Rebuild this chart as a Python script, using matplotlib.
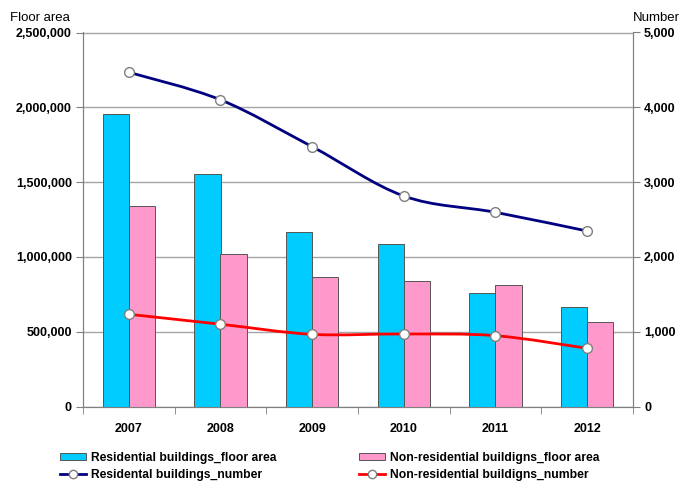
import matplotlib.pyplot as plt
import numpy as np
from matplotlib.path import Path
from matplotlib.patches import PathPatch, Patch
from matplotlib.lines import Line2D
from matplotlib.ticker import FuncFormatter, MultipleLocator, FixedLocator

plt.rcParams['font.family'] = ['Liberation Sans', 'DejaVu Sans']

years = ["2007", "2008", "2009", "2010", "2011", "2012"]
res_floor = [1957000, 1554000, 1164000, 1084000, 759000, 663000]
nonres_floor = [1340000, 1017000, 866000, 837000, 810000, 565000]
res_number = [4468, 4100, 3473, 2814, 2596, 2346]
nonres_number = [1233, 1100, 965, 970, 947, 778]

labels = [
    "Residential buildings_floor area",
    "Non-residential buildigns_floor area",
    "Residental buildings_number",
    "Non-residential buildigns_number",
]

cyan = "#00ccff"
pink = "#ff99cc"
navy = "#000080"
red = "#ff0000"
grid_c = "#a6a6a6"
axis_c = "#808080"


def smooth_path(x, y):
    # Excel style smoothed line: catmull-rom converted to cubic beziers
    pts = np.column_stack([x, y]).astype(float)
    verts = [pts[0]]
    codes = [Path.MOVETO]
    n = len(pts)
    for i in range(n - 1):
        p0 = pts[i - 1] if i > 0 else pts[i]
        p1 = pts[i]
        p2 = pts[i + 1]
        p3 = pts[i + 2] if i + 2 < n else pts[i + 1]
        c1 = p1 + (p2 - p0) / 6.0
        c2 = p2 - (p3 - p1) / 6.0
        verts += [c1, c2, p2]
        codes += [Path.CURVE4] * 3
    return Path(verts, codes)


fig = plt.figure(figsize=(6.8, 4.86), dpi=100)
ax = fig.add_axes([83 / 680, 1 - 406.5 / 486, 550 / 680, 374 / 486])
ax2 = ax.twinx()

x = np.arange(len(years))
w = 0.285
ax.bar(x - w / 2, res_floor, w, color=cyan, edgecolor="#555555", linewidth=0.7, zorder=3)
ax.bar(x + w / 2, nonres_floor, w, color=pink, edgecolor="#555555", linewidth=0.7, zorder=3)

ax.set_xlim(-0.5, len(years) - 0.5)
ax.set_ylim(0, 2500000)
ax.yaxis.set_major_locator(MultipleLocator(500000))
ax.yaxis.set_major_formatter(FuncFormatter(lambda v, p: f"{int(v):,}"))
ax.grid(axis="y", color=grid_c, linewidth=1, zorder=0)
ax.set_axisbelow(True)

ax.set_xticks(x)
ax.set_xticklabels(years, fontsize=9, fontweight="bold")
ax.tick_params(axis="x", length=0, pad=12)
ax.xaxis.set_minor_locator(FixedLocator(np.arange(-0.5, len(years), 1.0)))
ax.tick_params(axis="x", which="minor", length=5, color=axis_c, direction="out")
ax.tick_params(axis="y", length=5, color=axis_c, labelsize=9, pad=3)
for lab in ax.get_yticklabels():
    lab.set_fontweight("bold")

for s in ["top"]:
    ax.spines[s].set_visible(False)
    ax2.spines[s].set_visible(False)
for s in ["left", "bottom", "right"]:
    ax.spines[s].set_color(axis_c)
    ax2.spines[s].set_color(axis_c)

ax2.set_ylim(0, 5000)
ax2.yaxis.set_major_locator(MultipleLocator(1000))
ax2.yaxis.set_major_formatter(FuncFormatter(lambda v, p: f"{int(v):,}"))
ax2.tick_params(axis="y", length=5, color=axis_c, labelsize=9, pad=3)
for lab in ax2.get_yticklabels():
    lab.set_fontweight("bold")

for vals, col in [(res_number, navy), (nonres_number, red)]:
    ax2.add_patch(PathPatch(smooth_path(x, vals), facecolor="none", edgecolor=col,
                            linewidth=2, zorder=4))
    ax2.plot(x, vals, linestyle="none", marker="o", markersize=7,
             markerfacecolor="white", markeredgecolor="#7f7f7f", markeredgewidth=1, zorder=5)

fig.text(10 / 680, 1 - 18 / 486, "Floor area", fontsize=9.5, va="center", ha="left")
fig.text(680 / 680, 1 - 18 / 486, "Number", fontsize=9.5, va="center", ha="right")

handles = [
    Patch(facecolor=cyan, edgecolor="#555555", linewidth=0.7),
    Line2D([], [], color=navy, linewidth=2, marker="o", markersize=6,
           markerfacecolor="white", markeredgecolor="#7f7f7f"),
    Patch(facecolor=pink, edgecolor="#555555", linewidth=0.7),
    Line2D([], [], color=red, linewidth=2, marker="o", markersize=6,
           markerfacecolor="white", markeredgecolor="#7f7f7f"),
]
leg_labels = [labels[0], labels[2], labels[1], labels[3]]
leg = fig.legend(handles, leg_labels, loc="upper left", bbox_to_anchor=(55 / 680, 1 - 447 / 486),
                 ncol=2, frameon=False, prop={"size": 8.7, "weight": "bold"},
                 handlelength=2.2, handleheight=0.6, handletextpad=0.4,
                 columnspacing=6.8, labelspacing=0.4, borderaxespad=0)

fig.savefig("out.png", dpi=100)
